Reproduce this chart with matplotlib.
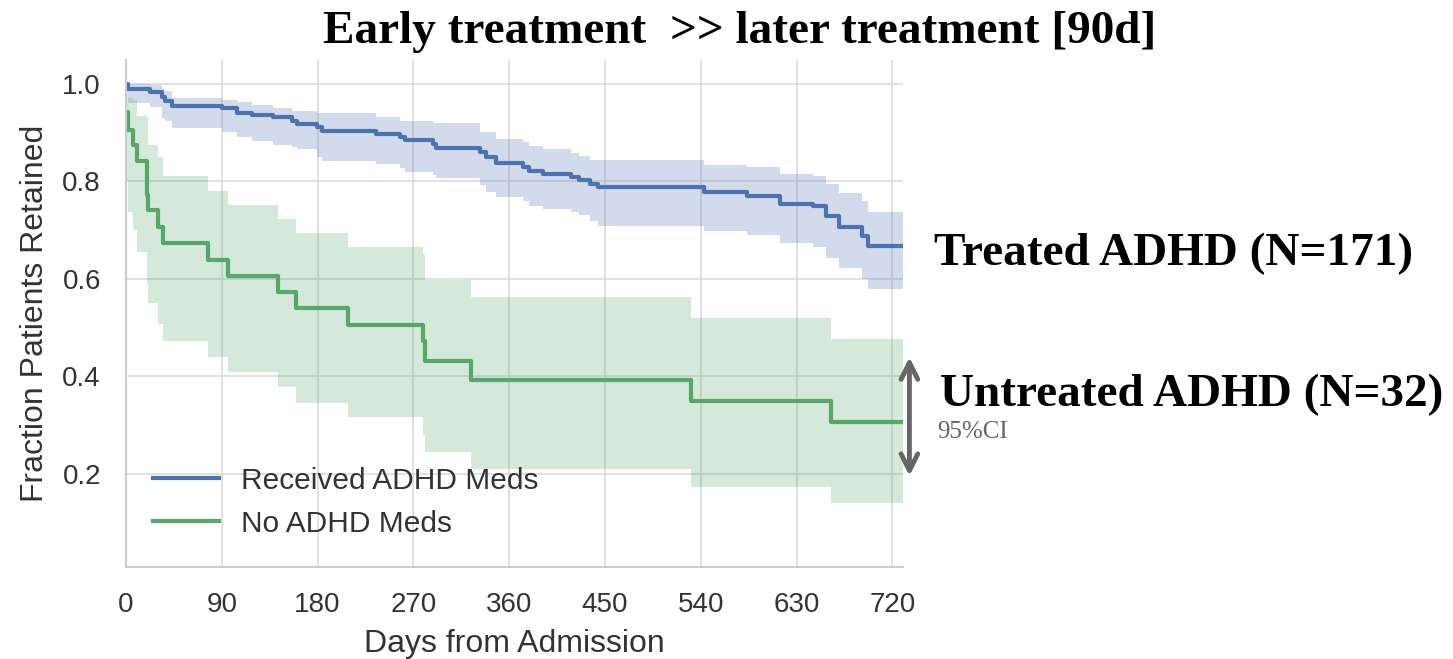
import matplotlib
matplotlib.use("Agg")
import matplotlib.pyplot as plt

# Kaplan-Meier retention, treated group (step times in days)
treated_days = [0, 2, 22.5, 33.5, 36.6, 42.9, 89.8, 103.9, 118, 138.3,
                155.5, 160.2, 179, 183.7, 235.3, 257.2, 261.9, 288.5, 291.6, 332.3,
                338.6, 348, 373, 379, 392, 418, 426, 436, 443, 543,
                583, 614, 645, 658, 670, 691, 697, 730]
treated_surv = [1.0, 0.989, 0.984, 0.974, 0.964, 0.955, 0.950, 0.941, 0.936, 0.932,
                0.923, 0.917, 0.912, 0.904, 0.897, 0.891, 0.884, 0.877, 0.868, 0.861,
                0.851, 0.837, 0.830, 0.822, 0.815, 0.809, 0.802, 0.795, 0.788, 0.778,
                0.769, 0.754, 0.750, 0.728, 0.707, 0.687, 0.668, 0.668]
treated_hi = [1.0, 1.0, 0.997, 0.99, 0.985, 0.972, 0.967, 0.962, 0.957, 0.951,
              0.945, 0.945, 0.940, 0.940, 0.933, 0.924, 0.924, 0.919, 0.919, 0.902,
              0.902, 0.886, 0.880, 0.873, 0.866, 0.859, 0.852, 0.844, 0.844, 0.834,
              0.829, 0.815, 0.810, 0.794, 0.777, 0.760, 0.738, 0.738]
treated_lo = [1.0, 0.96, 0.953, 0.93, 0.923, 0.909, 0.902, 0.891, 0.882, 0.875,
              0.871, 0.866, 0.851, 0.842, 0.836, 0.828, 0.820, 0.813, 0.806, 0.792,
              0.779, 0.768, 0.76, 0.75, 0.743, 0.737, 0.731, 0.718, 0.709, 0.699,
              0.689, 0.674, 0.665, 0.643, 0.622, 0.60, 0.579, 0.579]

# untreated group
untreated_days = [0, 1.6, 6.9, 10, 19.4, 21, 30.4, 35, 77.3, 96,
                  143, 160, 209, 279, 281, 324.5, 531, 662, 730]
untreated_surv = [0.943, 0.906, 0.875, 0.841, 0.772, 0.742, 0.707, 0.673, 0.639, 0.606,
                  0.573, 0.540, 0.506, 0.472, 0.432, 0.393, 0.349, 0.306, 0.306]
untreated_hi = [0.99, 0.97, 0.967, 0.935, 0.93, 0.875, 0.85, 0.81, 0.781, 0.752,
                0.723, 0.695, 0.666, 0.65, 0.598, 0.562, 0.519, 0.476, 0.476]
untreated_lo = [0.80, 0.738, 0.70, 0.656, 0.59, 0.55, 0.508, 0.473, 0.440, 0.408,
                0.378, 0.345, 0.316, 0.28, 0.245, 0.211, 0.174, 0.140, 0.140]

x_ticks = [0, 90, 180, 270, 360, 450, 540, 630, 720]
y_ticks = [0.2, 0.4, 0.6, 0.8, 1.0]

blue = "#4C72B0"
green = "#55A868"

plt.rcParams["font.family"] = ["Liberation Sans", "DejaVu Sans"]

fig = plt.figure(figsize=(14.53, 6.59), dpi=100)
ax = fig.add_axes([0.0867, 0.1396, 0.5348, 0.7694])

ax.fill_between(treated_days, treated_lo, treated_hi, step="post",
                color=blue, alpha=0.25, lw=0)
ax.fill_between(untreated_days, untreated_lo, untreated_hi, step="post",
                color=green, alpha=0.25, lw=0)
ax.step(treated_days, treated_surv, where="post", color=blue, lw=3,
        label="Received ADHD Meds")
ax.step(untreated_days, untreated_surv, where="post", color=green, lw=3,
        label="No ADHD Meds")

ax.set_xlim(0, 730)
ax.set_ylim(0.009, 1.049)
ax.set_xticks(x_ticks)
ax.set_yticks(y_ticks)
ax.tick_params(length=0, labelsize=20, colors="#333333", pad=18)
ax.grid(True, color="#dcdcdc", lw=1.2)
ax.set_axisbelow(True)
for side in ["top", "right"]:
    ax.spines[side].set_visible(False)
for side in ["left", "bottom"]:
    ax.spines[side].set_color("#cccccc")
    ax.spines[side].set_linewidth(1.5)

ax.set_xlabel("Days from Admission", fontsize=23, color="#333333", labelpad=8)
ax.set_ylabel("Fraction Patients Retained", fontsize=23, color="#333333", labelpad=9)

ax.legend(loc="lower left", bbox_to_anchor=(0.0, 0.005), frameon=False,
          fontsize=21.5, handlelength=2.2, handletextpad=0.75,
          labelcolor="#333333")

# 95% CI arrow for untreated group
ax.annotate("", xy=(736, 0.445), xytext=(736, 0.19),
            arrowprops=dict(arrowstyle="<->", color="#666666", lw=3.5,
                            mutation_scale=30),
            annotation_clip=False)
fig.text(0.645, 0.345, "95%CI", fontsize=18, color="#666666",
         family="Liberation Serif", va="center")

fig.text(0.509, 0.952, "Early treatment  >> later treatment [90d]",
         fontsize=34, fontweight="bold", family="Liberation Serif",
         ha="center", va="center")
fig.text(0.643, 0.614, "Treated ADHD (N=171)", fontsize=34, fontweight="bold",
         family="Liberation Serif", va="center")
fig.text(0.647, 0.401, "Untreated ADHD (N=32)", fontsize=34, fontweight="bold",
         family="Liberation Serif", va="center")

fig.savefig("out.png", dpi=100)
